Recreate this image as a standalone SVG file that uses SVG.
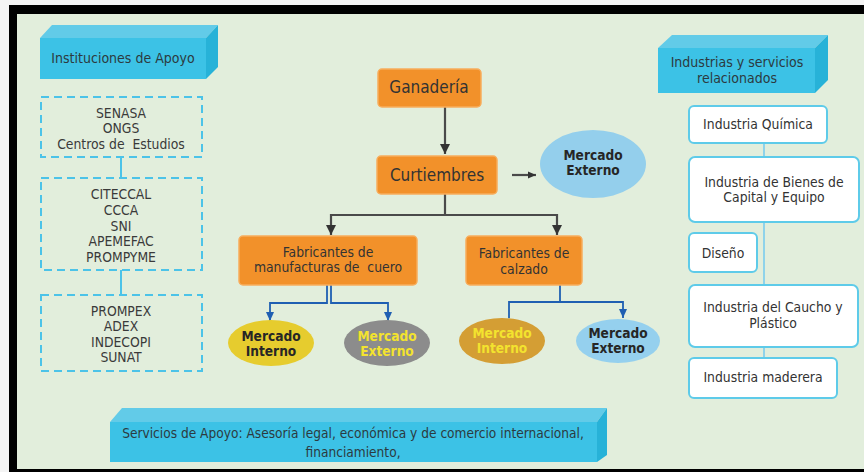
<svg xmlns="http://www.w3.org/2000/svg" width="864" height="472" viewBox="0 0 864 472">
  <defs>
    <style>
      text { font-family: "DejaVu Sans Condensed", "DejaVu Sans", Verdana, sans-serif; fill: #353535; text-anchor: middle; white-space: pre; }
      .hdr { font-size: 14px; fill: #2c3a40; }
      .lst { font-size: 13.8px; fill: #3a3a3a; }
      .big { font-size: 17px; fill: #333; }
      .mid { font-size: 13.8px; fill: #333; }
      .svc { font-size: 13.6px; fill: #2c3a40; }
      .mk { font-size: 13.6px; font-weight: bold; fill: #262626; }
      .mk.yl { fill: #f3e32e; }
      .dash { fill: none; stroke: #4cc3e8; stroke-width: 2; stroke-dasharray: 8 5; }
      .front { fill: #3cc2e6; }
      .top { fill: #62cbe8; }
      .side { fill: #27b2d8; }
      .org { fill: #f2912a; stroke: #f7ad5c; stroke-width: 1.5; }
      .wbox { fill: #ffffff; stroke: #5ecbe9; stroke-width: 2; }
      .dark { fill: none; stroke: #4a4a4a; stroke-width: 2.2; }
      .blue { fill: none; stroke: #1f5fb2; stroke-width: 1.8; }
      .lb { fill: none; stroke: #8fd3ea; stroke-width: 2; }
      .lbl { fill: none; stroke: #4cc3e8; stroke-width: 2; }
    </style>
    <marker id="ah" markerUnits="userSpaceOnUse" markerWidth="12" markerHeight="12" refX="10" refY="6" orient="auto">
      <path d="M0,1 L10,6 L0,11 Z" fill="#333"/>
    </marker>
    <marker id="ahs" markerUnits="userSpaceOnUse" markerWidth="10" markerHeight="10" refX="8" refY="5" orient="auto">
      <path d="M0,1.5 L8,5 L0,8.5 Z" fill="#333"/>
    </marker>
    <marker id="ahb" markerUnits="userSpaceOnUse" markerWidth="10" markerHeight="10" refX="9" refY="5" orient="auto">
      <path d="M0,1 L9,5 L0,9 Z" fill="#1f5fb2"/>
    </marker>
  </defs>

  <!-- frame and background -->
  <rect width="864" height="472" fill="#f4f4f4"/>
  <rect x="9" y="5" width="855" height="467" fill="#000"/>
  <rect x="17" y="14" width="847" height="455" fill="#e2eedc"/>

  <!-- connectors -->
  <g id="connectors">
    <!-- left list links -->
    <line class="lbl" x1="121" y1="157" x2="121" y2="178"/>
    <line class="lbl" x1="121" y1="270" x2="121" y2="295"/>
    <!-- right list spine -->
    <line class="lb" x1="764" y1="143" x2="764" y2="358"/>
    <!-- main chain -->
    <line class="dark" x1="445" y1="107" x2="445" y2="154" marker-end="url(#ah)"/>
    <path class="dark" d="M445,194 V215"/>
    <path class="dark" d="M331,215 H557"/>
    <line class="dark" x1="331" y1="214" x2="331" y2="235" marker-end="url(#ah)"/>
    <line class="dark" x1="557" y1="214" x2="557" y2="235" marker-end="url(#ah)"/>
    <line class="dark" x1="512" y1="175" x2="536" y2="175" stroke-width="1.8" marker-end="url(#ahs)"/>
    <!-- market links -->
    <path class="blue" d="M327,285 V303 H270 V321" marker-end="url(#ahb)"/>
    <path class="blue" d="M331,285 V303 H388 V321" marker-end="url(#ahb)"/>
    <path class="blue" d="M560,285 V302" stroke-width="3"/>
    <path class="blue" d="M509,318 V302 H623 V318" marker-start="url(#ahb)" marker-end="url(#ahb)"/>
  </g>

  <!-- support institutions header -->
  <g id="instituciones">
    <polygon class="top" points="40,38 52,25 218,25 206,38"/>
    <polygon class="side" points="206,38 218,25 218,67 206,79"/>
    <rect class="front" x="40" y="38" width="166" height="41"/>
    <text class="hdr" x="123" y="63">Instituciones de Apoyo</text>
  </g>

  <g id="grupo1">
    <rect class="dash" x="41" y="97" width="161" height="60"/>
    <text class="lst" x="121" y="118">SENASA</text>
    <text class="lst" x="121" y="133">ONGS</text>
    <text class="lst" x="121" y="149">Centros de  Estudios</text>
  </g>

  <g id="grupo2">
    <rect class="dash" x="41" y="178" width="161" height="92"/>
    <text class="lst" x="121" y="199">CITECCAL</text>
    <text class="lst" x="121" y="215">CCCA</text>
    <text class="lst" x="121" y="231">SNI</text>
    <text class="lst" x="121" y="246">APEMEFAC</text>
    <text class="lst" x="121" y="262">PROMPYME</text>
  </g>

  <g id="grupo3">
    <rect class="dash" x="41" y="295" width="161" height="76"/>
    <text class="lst" x="121" y="316">PROMPEX</text>
    <text class="lst" x="121" y="331">ADEX</text>
    <text class="lst" x="121" y="347">INDECOPI</text>
    <text class="lst" x="121" y="362">SUNAT</text>
  </g>

  <!-- value chain -->
  <g id="ganaderia">
    <rect class="org" x="378" y="69" width="103" height="38" rx="4"/>
    <text class="big" x="429" y="93">Ganadería</text>
  </g>

  <g id="curtiembres">
    <rect class="org" x="377" y="156" width="120" height="38" rx="4"/>
    <text class="big" x="437" y="181">Curtiembres</text>
  </g>

  <g id="mercado-externo-curtiembres">
    <ellipse cx="593" cy="164" rx="53" ry="34" fill="#94cfec"/>
    <text class="mk" x="593" y="160">Mercado</text>
    <text class="mk" x="593" y="175">Externo</text>
  </g>

  <g id="fab-manufacturas">
    <rect class="org" x="239" y="236" width="178" height="49" rx="4"/>
    <text class="mid" x="328" y="257">Fabricantes de</text>
    <text class="mid" x="328" y="272">manufacturas de  cuero</text>
  </g>

  <g id="fab-calzado">
    <rect class="org" x="466" y="236" width="116" height="49" rx="4"/>
    <text class="mid" x="524" y="258">Fabricantes de</text>
    <text class="mid" x="524" y="274">calzado</text>
  </g>

  <g id="mi-manufacturas">
    <ellipse cx="271" cy="343" rx="43" ry="23" fill="#e6cc2e"/>
    <text class="mk" x="271" y="341">Mercado</text>
    <text class="mk" x="271" y="356">Interno</text>
  </g>

  <g id="me-manufacturas">
    <ellipse cx="387" cy="343" rx="43" ry="23" fill="#8c8c8c"/>
    <text class="mk yl" x="387" y="341">Mercado</text>
    <text class="mk yl" x="387" y="356">Externo</text>
  </g>

  <g id="mi-calzado">
    <ellipse cx="502" cy="341" rx="43" ry="23" fill="#d49e34"/>
    <text class="mk yl" x="502" y="338">Mercado</text>
    <text class="mk yl" x="502" y="353">Interno</text>
  </g>

  <g id="me-calzado">
    <ellipse cx="618" cy="341" rx="42" ry="22" fill="#95d0ee"/>
    <text class="mk" x="618" y="338">Mercado</text>
    <text class="mk" x="618" y="353">Externo</text>
  </g>

  <!-- related industries -->
  <g id="industrias">
    <polygon class="top" points="658,48 672,35 828,35 815,48"/>
    <polygon class="side" points="815,48 828,35 828,80 815,93"/>
    <rect class="front" x="658" y="48" width="157" height="45"/>
    <text class="hdr" x="737" y="67">Industrias y servicios</text>
    <text class="hdr" x="737" y="83">relacionados</text>
  </g>

  <g id="quimica">
    <rect class="wbox" x="689" y="106" width="138" height="37" rx="5"/>
    <text class="mid" x="758" y="129">Industria Química</text>
  </g>

  <g id="bienes">
    <rect class="wbox" x="689" y="157" width="170" height="65" rx="6"/>
    <text class="mid" x="774" y="187">Industria de Bienes de</text>
    <text class="mid" x="774" y="202">Capital y Equipo</text>
  </g>

  <g id="diseno">
    <rect class="wbox" x="689" y="233" width="68" height="39" rx="5"/>
    <text class="mid" x="723" y="258">Diseño</text>
  </g>

  <g id="caucho">
    <rect class="wbox" x="689" y="285" width="169" height="62" rx="6"/>
    <text class="mid" x="773" y="312">Industria del Caucho y</text>
    <text class="mid" x="773" y="328">Plástico</text>
  </g>

  <g id="maderera">
    <rect class="wbox" x="689" y="358" width="148" height="40" rx="5"/>
    <text class="mid" x="763" y="382">Industria maderera</text>
  </g>

  <!-- support services -->
  <g id="servicios">
    <polygon class="top" points="110,422 122,408 607,408 597,422"/>
    <polygon class="side" points="597,422 607,408 607,455 597,462"/>
    <rect class="front" x="110" y="422" width="487" height="40"/>
    <text class="svc" x="353" y="438">Servicios de Apoyo: Asesoría legal, económica y de comercio internacional,</text>
    <text class="svc" x="353" y="457">financiamiento,</text>
  </g>
</svg>
